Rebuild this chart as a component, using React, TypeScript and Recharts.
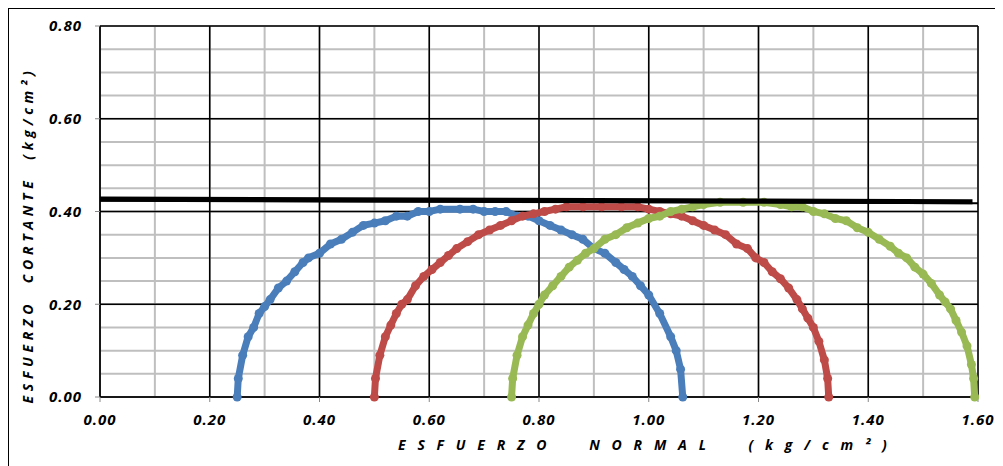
import { ComposedChart, Scatter, XAxis, YAxis, CartesianGrid } from "recharts";

// circle 1 (blue)
const blueX = [0.25, 0.252, 0.26, 0.27, 0.28, 0.29, 0.3, 0.31, 0.325, 0.34, 0.355, 0.37, 0.38, 0.4, 0.42, 0.44, 0.46, 0.48, 0.5, 0.52, 0.54, 0.56, 0.58, 0.6, 0.62, 0.656, 0.68, 0.7, 0.72, 0.74, 0.76, 0.78, 0.8, 0.82, 0.84, 0.86, 0.88, 0.9, 0.92, 0.94, 0.955, 0.97, 0.985, 1.0, 1.02, 1.04, 1.05, 1.058, 1.062];
const blueY = [0, 0.04, 0.09, 0.13, 0.15, 0.18, 0.195, 0.21, 0.235, 0.25, 0.27, 0.29, 0.3, 0.31, 0.33, 0.34, 0.355, 0.37, 0.375, 0.38, 0.39, 0.39, 0.4, 0.4, 0.405, 0.405, 0.405, 0.4, 0.4, 0.4, 0.39, 0.39, 0.38, 0.37, 0.36, 0.35, 0.34, 0.32, 0.31, 0.29, 0.275, 0.26, 0.24, 0.22, 0.18, 0.13, 0.1, 0.06, 0];

// circle 2 (red)
const redX = [0.5, 0.502, 0.51, 0.52, 0.53, 0.54, 0.55, 0.56, 0.575, 0.59, 0.605, 0.62, 0.635, 0.65, 0.67, 0.69, 0.71, 0.73, 0.75, 0.77, 0.79, 0.81, 0.83, 0.85, 0.88, 0.914, 0.95, 0.98, 1.0, 1.02, 1.04, 1.06, 1.08, 1.1, 1.12, 1.14, 1.16, 1.18, 1.195, 1.21, 1.225, 1.24, 1.255, 1.27, 1.28, 1.29, 1.3, 1.31, 1.32, 1.326, 1.328];
const redY = [0, 0.04, 0.09, 0.13, 0.155, 0.18, 0.2, 0.21, 0.24, 0.26, 0.275, 0.29, 0.305, 0.32, 0.335, 0.35, 0.36, 0.37, 0.38, 0.39, 0.395, 0.4, 0.405, 0.41, 0.41, 0.41, 0.41, 0.41, 0.405, 0.4, 0.395, 0.39, 0.38, 0.37, 0.36, 0.35, 0.33, 0.32, 0.3, 0.29, 0.27, 0.255, 0.235, 0.21, 0.19, 0.17, 0.15, 0.12, 0.08, 0.04, 0];

// circle 3 (green)
const greenX = [0.75, 0.752, 0.76, 0.77, 0.78, 0.79, 0.8, 0.81, 0.825, 0.84, 0.855, 0.87, 0.885, 0.9, 0.92, 0.94, 0.96, 0.98, 1.0, 1.02, 1.04, 1.06, 1.08, 1.1, 1.13, 1.172, 1.21, 1.24, 1.26, 1.28, 1.3, 1.32, 1.34, 1.36, 1.38, 1.4, 1.42, 1.44, 1.455, 1.47, 1.485, 1.5, 1.515, 1.53, 1.54, 1.55, 1.56, 1.57, 1.58, 1.588, 1.592, 1.594];
const greenY = [0, 0.04, 0.09, 0.13, 0.155, 0.18, 0.2, 0.22, 0.24, 0.26, 0.28, 0.295, 0.31, 0.32, 0.34, 0.35, 0.365, 0.375, 0.385, 0.39, 0.4, 0.405, 0.41, 0.415, 0.42, 0.42, 0.42, 0.415, 0.41, 0.41, 0.4, 0.395, 0.385, 0.38, 0.365, 0.355, 0.34, 0.325, 0.31, 0.3, 0.28, 0.265, 0.245, 0.22, 0.205, 0.19, 0.165, 0.14, 0.11, 0.07, 0.04, 0];

// failure envelope
const envX = [0, 1.59];
const envY = [0.427, 0.421];
const env2X = [0, 1.6];
const env2Y = [0.423, 0.418];

const xTicks = [0, 0.2, 0.4, 0.6, 0.8, 1.0, 1.2, 1.4, 1.6];
const yTicks = [0, 0.2, 0.4, 0.6, 0.8];
const xMinorTicks = [0, 0.05, 0.1, 0.15, 0.2, 0.25, 0.3, 0.35, 0.4, 0.45, 0.5, 0.55, 0.6, 0.65, 0.7, 0.75, 0.8, 0.85, 0.9, 0.95, 1.0, 1.05, 1.1, 1.15, 1.2, 1.25, 1.3, 1.35, 1.4, 1.45, 1.5, 1.55, 1.6];
const yMinorTicks = [0, 0.05, 0.1, 0.15, 0.2, 0.25, 0.3, 0.35, 0.4, 0.45, 0.5, 0.55, 0.6, 0.65, 0.7, 0.75, 0.8];

const pts = (xs: number[], ys: number[]) => xs.map((x, i) => ({ x, y: ys[i] }));

const FONT = "'Open Sans', sans-serif";
const tickStyle = { fill: "#000", fontSize: 15, fontWeight: 700, fontStyle: "italic", fontFamily: FONT, letterSpacing: 1 };

const dot = (color: string) => (p: any) => <circle cx={p.cx} cy={p.cy} r={4.5} fill={color} />;
const noDot = () => <g />;

export default function App() {
  const series = [
    { name: "c1", data: pts(blueX, blueY), color: "#4A7EBB" },
    { name: "c2", data: pts(redX, redY), color: "#BE4B48" },
    { name: "c3", data: pts(greenX, greenY), color: "#98B954" },
  ];
  return (
    <div
      style={{
        position: "relative",
        width: 1000,
        height: 470,
        border: "3px solid #000",
        marginLeft: -2,
        marginTop: -2,
        fontFamily: FONT,
      }}
    >
      <ComposedChart width={1000} height={455} margin={{ top: 17, right: 31, bottom: 37, left: 31 }}>
        <CartesianGrid
          stroke="#BFBFBF"
          strokeWidth={2}
          verticalValues={xMinorTicks}
          horizontalValues={yMinorTicks}
        />
        <XAxis
          type="number"
          dataKey="x"
          domain={[0, 1.6]}
          ticks={xTicks}
          height={30}
          tickSize={5}
          tickMargin={12}
          tickFormatter={(v: number) => v.toFixed(2)}
          tick={tickStyle}
          axisLine={{ stroke: "#000" }}
          tickLine={{ stroke: "#888" }}
        />
        <YAxis
          type="number"
          dataKey="y"
          domain={[0, 0.8]}
          ticks={yTicks}
          width={60}
          tickSize={5}
          tickMargin={13}
          tickFormatter={(v: number) => v.toFixed(2)}
          tick={tickStyle}
          axisLine={{ stroke: "#000" }}
          tickLine={{ stroke: "#888" }}
        />
        <CartesianGrid stroke="#000" strokeWidth={1.5} verticalValues={xTicks} horizontalValues={yTicks} />
        {series.map((s) => (
          <Scatter
            key={s.name}
            name={s.name}
            data={s.data}
            fill={s.color}
            line={{ stroke: s.color, strokeWidth: 7 }}
            lineType="joint"
            shape={dot(s.color)}
            isAnimationActive={false}
          />
        ))}
        <Scatter
          name="env2"
          data={pts(env2X, env2Y)}
          line={{ stroke: "#000", strokeWidth: 2 }}
          lineType="joint"
          shape={noDot}
          isAnimationActive={false}
        />
        <Scatter
          name="env"
          data={pts(envX, envY)}
          line={{ stroke: "#000", strokeWidth: 5 }}
          lineType="joint"
          shape={noDot}
          isAnimationActive={false}
        />
      </ComposedChart>
      <div
        style={{
          position: "absolute",
          left: 18,
          top: 226,
          transform: "translate(-50%, -50%) rotate(-90deg)",
          whiteSpace: "pre",
          fontSize: 14,
          fontWeight: 700,
          fontStyle: "italic",
          letterSpacing: 4.7,
          color: "#000",
        }}
      >
        {"ESFUERZO  CORTANTE  (kg/cm²)"}
      </div>
      <div
        style={{
          position: "absolute",
          left: 389,
          top: 426,
          whiteSpace: "pre",
          fontSize: 14,
          fontWeight: 700,
          fontStyle: "italic",
          letterSpacing: 11.8,
          color: "#000",
        }}
      >
        {"ESFUERZO  NORMAL  (kg/cm²)"}
      </div>
    </div>
  );
}
